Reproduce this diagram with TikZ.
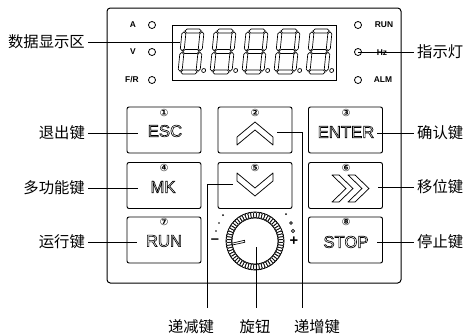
\documentclass[tikz,border=0pt]{standalone}
\usepackage{fontspec}
\setmainfont{Liberation Sans}
\newfontfamily\cjk{Noto Sans CJK SC}
\newfontfamily\symf{DejaVu Sans}

\tikzset{every picture/.style={line width=0.75pt}}
\tikzset{
  keybox/.style={draw, rounded corners=1.5pt, line width=0.7pt, minimum width=55.5pt, minimum height=34.5pt, inner sep=0pt},
  keytxt/.style={inner sep=0pt, font=\fontsize{12.5}{14}\selectfont},
  num/.style={inner sep=0pt, font=\symf\bfseries\fontsize{7.5}{8}\selectfont},
  led/.style={draw, circle, minimum size=5.3pt, inner sep=0pt, line width=0.6pt},
  ledtxt/.style={inner sep=0pt, font=\bfseries\fontsize{6.3}{7}\selectfont},
  callout/.style={inner sep=2pt, font=\cjk\fontsize{11.5}{12}\selectfont},
  lead/.style={line width=0.6pt},
  outline/.style={line width=0.55pt, line join=round},
  pm/.style={inner sep=0pt, font=\bfseries\fontsize{11}{12}\selectfont},
}
% hollow letters on the keys
\newcommand\hollow[1]{\special{pdf:literal direct 1 Tr 0.45 w}#1\special{pdf:literal direct 0 Tr}}
% one seven segment digit with its dot
\newcommand\sevenseg[1]{%
\begin{scope}[shift={(#1,72)}, yscale=-1, xslant=0.1, line width=0.5pt]
  \foreach \sy in {0,20.5,41}
    \draw (0.8,\sy) -- (2.8,\sy+2) -- (15.2,\sy+2) -- (17.2,\sy) -- (15.2,\sy-2) -- (2.8,\sy-2) -- cycle;
  \foreach \sx in {0,18}
    \foreach \sa/\sb in {0/20.5,20.5/41}
      \draw (\sx,\sa+0.8) -- (\sx+2,\sa+2.8) -- (\sx+2,\sb-2.8) -- (\sx,\sb-0.8) -- (\sx-2,\sb-2.8) -- (\sx-2,\sa+2.8) -- cycle;
  \draw (23.5,1.5) circle (2);
\end{scope}}

\begin{document}
\begin{tikzpicture}[x=0.75pt,y=0.75pt,yscale=-1,xscale=1]
\useasboundingbox (0,0) rectangle (469,333);

%Shape: Panel
\draw [rounded corners=2.5pt] (107,8) rectangle (401,283);
%Shape: Display
\draw [line width=0.7pt] (172,25) rectangle (336,80);
\foreach \dx in {180,212,244,276,308} \sevenseg{\dx};

% LEDs
\node [led] (ledA) at (152,25) {};
\node [led] (ledV) at (152,52) {};
\node [led] (ledFR) at (152,80) {};
\node [led] (ledRUN) at (358,25) {};
\node [led] (ledHz) at (358,52) {};
\node [led] (ledALM) at (358,80) {};
\node [ledtxt] (tA) at (133,25) {A};
\node [ledtxt] (tV) at (133,52) {V};
\node [ledtxt] (tFR) at (132,80) {F/R};
\node [ledtxt] (tRUN) at (384,25) {RUN};
\node [ledtxt] (tHz) at (382,53) {Hz};
\node [ledtxt] (tALM) at (383,80) {ALM};

% Keys
\node [keybox] (esc) at (164,130) {};
\node [keybox] (up) at (255,130) {};
\node [keybox] (enter) at (345.5,130) {};
\node [keybox] (mk) at (164,185.5) {};
\node [keybox] (down) at (255,185.5) {};
\node [keybox] (shift) at (345.5,185.5) {};
\node [keybox] (run) at (164,240) {};
\node [keybox] (stop) at (345.5,240) {};

\node [keytxt] (tesc) at (165,131) {\hollow{ESC}};
\node [keytxt] (tenter) at (346,132) {\hollow{ENTER}};
\node [keytxt] (tmk) at (163,187) {\hollow{MK}};
\node [keytxt] (trun) at (164,241) {\hollow{RUN}};
\node [keytxt] (tstop) at (346,242) {\hollow{STOP}};

\node [num] (n1) at (164,113) {①};
\node [num] (n2) at (255,113) {②};
\node [num] (n3) at (346,113) {③};
\node [num] (n4) at (164,168) {④};
\node [num] (n5) at (255,168) {⑤};
\node [num] (n6) at (346,168) {⑥};
\node [num] (n7) at (164,222) {⑦};
\node [num] (n8) at (346,222) {⑧};

%Shape: Chevrons
\draw [outline] (237,137) -- (255,122) -- (273,137) -- (273,145) -- (255,130) -- (237,145) -- cycle;
\draw [outline] (237,173) -- (255,188) -- (273,173) -- (273,181) -- (255,196) -- (237,181) -- cycle;
\draw [outline] (332,175) -- (339,175) -- (353,188.5) -- (339,202) -- (332,202) -- (346,188.5) -- cycle;
\draw [outline] (348,175) -- (355,175) -- (369,188.5) -- (355,202) -- (348,202) -- (362,188.5) -- cycle;

%Shape: Knob
\coordinate (knob) at (255,241);
\draw [line width=0.5pt] (knob) circle (23);
\draw [line width=0.5pt] (knob) circle (29);
\foreach \a in {0,6,...,354}
  \draw [line width=0.4pt] (knob) ++(\a:26) ellipse [x radius=3, y radius=1.6, rotate=\a];
\draw [line width=0.5pt, fill=white] (232,243.2) -- (244.5,240.3) -- (244.8,242.3) -- (232.3,245) -- cycle;
\fill (223,215) circle (1);
\fill (219,223) circle (0.9);
\fill (216,231) circle (0.8);
\fill (286,214) circle (1);
\draw [line width=0.5pt] (291,223) circle (1.4);
\draw [line width=0.5pt] (293,231) circle (1.7);
\node [pm] (minus) at (215,241) {–};
\node [pm] (plus) at (294,241) {+};

% Text Node
\node [callout, anchor=east] (ldisp) at (88,42) {数据显示区};
\node [callout, anchor=east] (lesc) at (88,133) {退出键};
\node [callout, anchor=east] (lmk) at (88,188) {多功能键};
\node [callout, anchor=east] (lrun) at (88,242) {运行键};
\node [callout, anchor=west] (lled) at (414,52) {指示灯};
\node [callout, anchor=west] (lenter) at (414,133) {确认键};
\node [callout, anchor=west] (lshift) at (414,187) {移位键};
\node [callout, anchor=west] (lstop) at (414,242) {停止键};
\node [callout] (ldown) at (191,327) {递减键};
\node [callout] (lknob) at (255,327) {旋钮};
\node [callout] (lup) at (317,327) {递增键};

% leaders
\coordinate (dispin) at (180,42);
\coordinate (escin) at (138,133);
\coordinate (mkin) at (138,188);
\coordinate (runin) at (137,242);
\coordinate (enterin) at (377,133);
\coordinate (shiftin) at (378,187);
\coordinate (stopin) at (377,242);
\coordinate (uptip) at (277,132);
\coordinate (upend) at (302,308);
\coordinate (downtip) at (233,184);
\coordinate (downend) at (207,308);
\coordinate (knobtip) at (256,247);
\coordinate (knobend) at (256,308);

\draw [lead] (ldisp) -- (dispin);
\draw [lead] (lesc) -- (escin);
\draw [lead] (lmk) -- (mkin);
\draw [lead] (lrun) -- (runin);
\draw [lead] (ledHz.center) -- (lled);
\draw [lead] (enterin) -- (lenter);
\draw [lead] (shiftin) -- (lshift);
\draw [lead] (stopin) -- (lstop);
\draw [lead] (uptip) -| (upend);
\draw [lead] (downtip) -| (downend);
\draw [lead] (knobtip) -- (knobend);

\end{tikzpicture}
\end{document}
